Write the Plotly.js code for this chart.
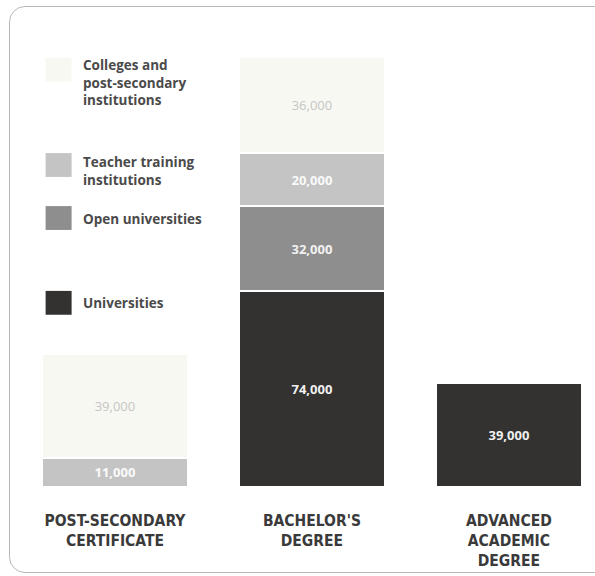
<!DOCTYPE html>
<html>
<head>
<meta charset="utf-8">
<script src="https://cdn.plot.ly/plotly-3.0.1.min.js"></script>
<style>
  html, body { margin:0; padding:0; background:#ffffff; }
  #wrap { position:relative; width:595px; height:576px; overflow:hidden; background:#fff; }
  #frame { position:absolute; left:9px; top:6px; width:610px; height:567px; border:1.5px solid #b9b9b9; border-radius:16px; box-sizing:border-box; }
  #chart { position:absolute; left:0; top:0; width:595px; height:576px; }
</style>
</head>
<body>
<div id="wrap"><div id="frame"></div><div id="chart"></div></div>
<script>
// ---- data ----
const categories = ['POST-SECONDARY<br>CERTIFICATE', "BACHELOR'S<br>DEGREE", 'ADVANCED<br>ACADEMIC<br>DEGREE'];
const seriesNames = ['Universities', 'Open universities', 'Teacher training<br>institutions', 'Colleges and<br>post-secondary<br>institutions'];
const universities = [null, 74000, 39000];
const openUniversities = [null, 32000, null];
const teacherTraining = [11000, 20000, null];
const colleges = [39000, 36000, null];

const colors = ['#333231', '#8e8e8e', '#c4c4c4', '#f8f8f3'];
const textColors = ['#f0f0f0', '#f2f2f2', '#fafafa', '#c6c6c4'];
const allSeries = [universities, openUniversities, teacherTraining, colleges];

const valueFont = 'Open Sans, sans-serif';
const labelFont = 'DejaVu Sans Condensed, Open Sans, sans-serif';

const traces = allSeries.map((vals, i) => ({
  type: 'bar',
  name: seriesNames[i],
  x: categories,
  y: vals,
  width: 0.74,
  marker: { color: colors[i], line: { color: '#ffffff', width: 1.5 } },
  texttemplate: '%{y:,}',
  textposition: 'inside',
  insidetextanchor: 'middle',
  textangle: 0,
  textfont: { family: valueFont, size: 13, color: textColors[i], weight: i === 3 ? 'normal' : 'bold' },
  hoverinfo: 'skip',
  showlegend: false
}));

// legend aligned to the tops of the bachelor's segments
const bi = 1;
let cum = 0;
const tops = allSeries.map(s => { cum += (s[bi] || 0); return cum; });
const swatchH = 9000;
const shapes = [];
const annotations = [];
const yShifts = [-1, -2, 2, 4];
allSeries.forEach((s, i) => {
  shapes.push({
    type: 'rect', xref: 'x', yref: 'y',
    x0: -0.352, x1: -0.22, y0: tops[i] - swatchH, y1: tops[i],
    fillcolor: colors[i], line: { width: 0 }, layer: 'above'
  });
  annotations.push({
    xref: 'x', yref: 'y', x: -0.17, y: tops[i],
    xanchor: 'left', yanchor: 'top', align: 'left', yshift: yShifts[i],
    showarrow: false, text: seriesNames[i],
    font: { family: valueFont, size: 13.5, color: '#4a4a4a', weight: 'bold' }
  });
});

const layout = {
  width: 595, height: 576,
  margin: { l: 20, r: 0, t: 10, b: 89 },
  paper_bgcolor: 'rgba(0,0,0,0)',
  plot_bgcolor: 'rgba(0,0,0,0)',
  barmode: 'stack',
  showlegend: false,
  xaxis: {
    type: 'category',
    range: [-0.482, 2.437],
    showgrid: false, zeroline: false, showline: false, ticks: '',
    ticklabelstandoff: 22,
    tickfont: { family: labelFont, size: 15.5, color: '#3a3a3a', weight: 'bold' }
  },
  yaxis: {
    range: [0, 180000],
    showgrid: false, zeroline: false, showline: false, showticklabels: false, ticks: ''
  },
  shapes: shapes,
  annotations: annotations,
  font: { family: valueFont }
};

Plotly.newPlot('chart', traces, layout, { displayModeBar: false, staticPlot: true });
</script>
</body>
</html>
